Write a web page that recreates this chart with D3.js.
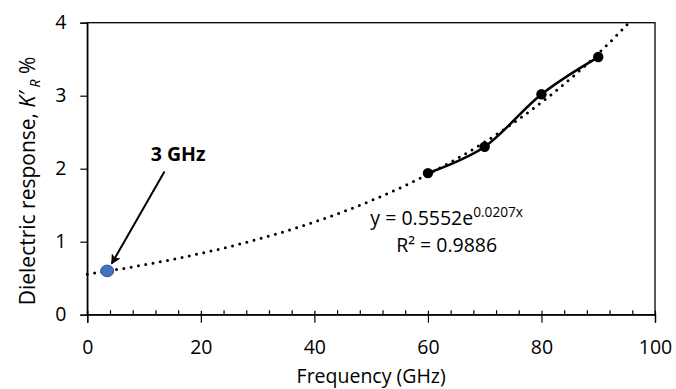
<!DOCTYPE html>
<html>
<head>
<meta charset="utf-8">
<script src="https://cdn.jsdelivr.net/npm/d3@7"></script>
<style>
  html, body { margin: 0; padding: 0; background: #fff; }
  svg { display: block; font-family: 'Open Sans', 'Liberation Sans', sans-serif; }
</style>
</head>
<body>
<div id="chart"></div>
<script>
// data
const freq = [60, 70, 80, 90]
const kr = [1.94, 2.30, 3.02, 3.53]
const lowFreq = [3.5]
const lowKr = [0.60]
// displayed exponential fit y = a·e^(b·x)
const fitA = 0.5552
const fitB = 0.0207
const xTicks = [0, 20, 40, 60, 80, 100]
const yTicks = [0, 1, 2, 3, 4]

const W = 676, H = 389
const M = { top: 22.7, right: 21, bottom: 74.3, left: 87.3 }
const FS = 19.5

const svg = d3.select('#chart').append('svg').attr('width', W).attr('height', H)

const x = d3.scaleLinear().domain([0, 100]).range([M.left, W - M.right])
const y = d3.scaleLinear().domain([0, 4]).range([H - M.bottom, M.top])

// ── Frame ────────────────────────────────────────────────────────────────
svg.append('rect')
  .attr('x', x(0)).attr('y', y(4))
  .attr('width', x(100) - x(0)).attr('height', y(0) - y(4))
  .attr('fill', 'none').attr('stroke', '#000').attr('stroke-width', 1.3)

// ── Axes ─────────────────────────────────────────────────────────────────
const minor = d3.range(0, 101, 4).filter(v => v % 20 !== 0)
svg.append('g').attr('transform', `translate(0,${y(0)})`)
  .call(d3.axisBottom(x).tickValues(minor).tickSize(-4.5).tickFormat(''))
  .call(g => g.select('.domain').remove())
  .call(g => g.selectAll('line').attr('stroke', '#000').attr('stroke-width', 1.2))

const xAxis = svg.append('g').attr('transform', `translate(0,${y(0)})`)
  .call(d3.axisBottom(x).tickValues(xTicks).tickSize(8).tickPadding(17).tickFormat(d3.format('d')))
xAxis.select('.domain').attr('stroke', '#000').attr('stroke-width', 1.3)
xAxis.selectAll('.tick line').attr('stroke', '#000').attr('stroke-width', 1.2).attr('y1', -4)
xAxis.selectAll('text').attr('font-size', FS).attr('fill', '#000')
  .attr('font-family', "'Open Sans', sans-serif")

const yAxis = svg.append('g').attr('transform', `translate(${x(0)},0)`)
  .call(d3.axisLeft(y).tickValues(yTicks).tickSize(7).tickPadding(14).tickFormat(d3.format('d')))
yAxis.select('.domain').attr('stroke', '#000').attr('stroke-width', 1.3)
yAxis.selectAll('.tick line').attr('stroke', '#000').attr('stroke-width', 1.2)
yAxis.selectAll('text').attr('font-size', FS).attr('fill', '#000')
  .attr('font-family', "'Open Sans', sans-serif")

// ── Axis titles ──────────────────────────────────────────────────────────
svg.append('text')
  .attr('x', (x(0) + x(100)) / 2).attr('y', 383)
  .attr('text-anchor', 'middle').attr('font-size', FS).text('Frequency (GHz)')

const yt = svg.append('text')
  .attr('transform', 'translate(35,181) rotate(-90)')
  .attr('text-anchor', 'middle').attr('font-size', 21)
yt.append('tspan').text('Dielectric response, ')
yt.append('tspan').attr('font-style', 'italic').text('K′')
yt.append('tspan').attr('font-style', 'italic').attr('font-size', 14).attr('dy', 5).text(' R')
yt.append('tspan').attr('dy', -5).text(' %')

// ── Trendline (from displayed fit) ───────────────────────────────────────
const xEnd = Math.log(4 / fitA) / fitB
const trendX = d3.range(0, xEnd, 0.5).concat([xEnd])
svg.append('path')
  .datum(trendX)
  .attr('d', d3.line().x(d => x(d)).y(d => y(fitA * Math.exp(fitB * d))))
  .attr('fill', 'none').attr('stroke', '#000').attr('stroke-width', 3)
  .attr('stroke-linecap', 'round').attr('stroke-dasharray', '0 7.4')

// ── Measured series ──────────────────────────────────────────────────────
const pts = freq.map((f, i) => [f, kr[i]])
svg.append('path')
  .datum(pts)
  .attr('d', d3.line().x(d => x(d[0])).y(d => y(d[1])).curve(d3.curveCatmullRom.alpha(0)))
  .attr('fill', 'none').attr('stroke', '#000').attr('stroke-width', 2.6)

svg.selectAll('.pt').data(pts).join('circle')
  .attr('class', 'pt')
  .attr('cx', d => x(d[0])).attr('cy', d => y(d[1])).attr('r', 5.2)
  .attr('fill', '#000')

svg.selectAll('.low').data(lowFreq.map((f, i) => [f, lowKr[i]])).join('ellipse')
  .attr('class', 'low')
  .attr('cx', d => x(d[0])).attr('cy', d => y(d[1])).attr('rx', 6.5).attr('ry', 5.8)
  .attr('fill', '#4472C4').attr('stroke', '#2F528F').attr('stroke-width', 1)

// ── Annotation ───────────────────────────────────────────────────────────
svg.append('defs').append('marker')
  .attr('id', 'arr').attr('viewBox', '0 0 10 10').attr('refX', 9).attr('refY', 5)
  .attr('markerWidth', 5).attr('markerHeight', 5).attr('orient', 'auto')
  .attr('markerUnits', 'strokeWidth')
  .append('path').attr('d', 'M0,0 L10,5 L0,10 L2.5,5 Z').attr('fill', '#000')

svg.append('line')
  .attr('x1', x(13.6)).attr('y1', y(1.96))
  .attr('x2', x(4.3)).attr('y2', y(0.70))
  .attr('stroke', '#000').attr('stroke-width', 2)
  .attr('marker-end', 'url(#arr)')

svg.append('text')
  .attr('x', x(16.0)).attr('y', y(2.10))
  .attr('text-anchor', 'middle').attr('font-size', FS).attr('font-weight', 'bold')
  .text('3 GHz')

const eq = svg.append('text')
  .attr('x', x(63.3)).attr('y', y(1.23))
  .attr('text-anchor', 'middle').attr('font-size', FS)
eq.append('tspan').text(`y = ${fitA}e`)
eq.append('tspan').attr('font-size', FS * 0.7).attr('dy', -8).text(`${fitB}x`)

svg.append('text')
  .attr('x', x(63.3)).attr('y', y(0.863))
  .attr('text-anchor', 'middle').attr('font-size', FS)
  .text('R² = 0.9886')
</script>
</body>
</html>
